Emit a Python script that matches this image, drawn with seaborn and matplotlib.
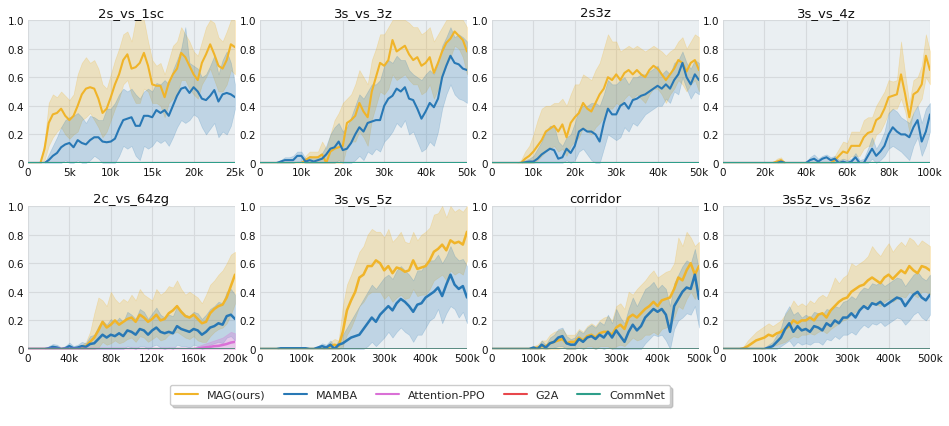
import numpy as np
import pandas as pd
import matplotlib
matplotlib.use("Agg")
import matplotlib.pyplot as plt
import seaborn as sns
from matplotlib.lines import Line2D

# ---------------- data ----------------
METHODS = ["MAG(ours)", "MAMBA", "Attention-PPO", "G2A", "CommNet"]
COLORS = {"MAG(ours)": "#F0B429", "MAMBA": "#2878B5", "Attention-PPO": "#DA70D6",
          "G2A": "#E8474C", "CommNet": "#2E9E8A"}

TITLES = ["2s_vs_1sc", "3s_vs_3z", "2s3z", "3s_vs_4z",
          "2c_vs_64zg", "3s_vs_5z", "corridor", "3s5z_vs_3s6z"]
XMAX = [25000, 50000, 50000, 100000, 200000, 500000, 500000, 500000]
XTICKS = [[0, 5000, 10000, 15000, 20000, 25000],
          [0, 10000, 20000, 30000, 40000, 50000],
          [0, 10000, 20000, 30000, 40000, 50000],
          [0, 20000, 40000, 60000, 80000, 100000],
          [0, 40000, 80000, 120000, 160000, 200000],
          [0, 100000, 200000, 300000, 400000, 500000],
          [0, 100000, 200000, 300000, 400000, 500000],
          [0, 100000, 200000, 300000, 400000, 500000]]
XTICKLABELS = [["0", "5k", "10k", "15k", "20k", "25k"],
               ["0", "10k", "20k", "30k", "40k", "50k"],
               ["0", "10k", "20k", "30k", "40k", "50k"],
               ["0", "20k", "40k", "60k", "80k", "100k"],
               ["0", "40k", "80k", "120k", "160k", "200k"],
               ["0", "100k", "200k", "300k", "400k", "500k"],
               ["0", "100k", "200k", "300k", "400k", "500k"],
               ["0", "100k", "200k", "300k", "400k", "500k"]]
YTICKS = [0, 0.2, 0.4, 0.6, 0.8, 1.0]
YTICKLABELS = ["0", "0.2", "0.4", "0.6", "0.8", "1.0"]
N_POINTS = 51

# 2s_vs_1sc
P1_MAG = [0,0,0,0,0.10,0.28,0.34,0.35,0.38,0.33, 0.30,0.33,0.40,0.48,0.52,0.53,0.52,0.45,0.35,0.38, 0.46,0.55,0.62,0.72,0.76,0.66,0.67,0.70,0.77,0.68, 0.55,0.54,0.54,0.46,0.56,0.62,0.66,0.77,0.74,0.68, 0.62,0.58,0.70,0.76,0.83,0.76,0.68,0.66,0.72,0.83, 0.81]
P1_MAG_HI = [0,0,0,0,0.15,0.42,0.48,0.46,0.50,0.47, 0.44,0.48,0.62,0.70,0.74,0.70,0.72,0.66,0.55,0.52, 0.62,0.72,0.80,0.90,0.92,0.85,1.0,1.0,1.0,0.85, 0.72,0.68,0.70,0.62,0.72,0.82,0.85,0.95,0.90,0.85, 0.78,0.75,0.85,0.95,1.0,0.98,0.88,0.85,0.92,1.0, 1.0]
P1_MAG_LO = [0,0,0,0,0.02,0.12,0.18,0.22,0.25,0.20, 0.17,0.20,0.22,0.30,0.32,0.35,0.30,0.25,0.18,0.22, 0.30,0.38,0.45,0.55,0.58,0.48,0.42,0.42,0.52,0.50, 0.42,0.42,0.40,0.32,0.42,0.45,0.48,0.58,0.58,0.52, 0.48,0.45,0.55,0.60,0.66,0.58,0.50,0.50,0.55,0.65, 0.62]
P1_MAMBA = [0,0,0,0,0,0.02,0.05,0.07,0.11,0.13, 0.14,0.11,0.16,0.14,0.13,0.16,0.18,0.18,0.15,0.145, 0.15,0.17,0.24,0.30,0.31,0.32,0.26,0.26,0.33,0.33, 0.32,0.37,0.35,0.37,0.33,0.40,0.47,0.52,0.53,0.49, 0.53,0.50,0.45,0.44,0.47,0.51,0.43,0.48,0.49,0.48, 0.46]
P1_MAMBA_HI = [0,0,0,0,0,0.06,0.12,0.18,0.25,0.30, 0.32,0.33,0.35,0.32,0.28,0.33,0.32,0.30,0.30,0.38, 0.38,0.42,0.48,0.52,0.50,0.52,0.48,0.45,0.50,0.52, 0.50,0.56,0.55,0.58,0.55,0.65,0.72,0.80,0.95,0.70, 0.68,0.66,0.60,0.62,0.68,0.75,0.62,0.72,0.78,0.70, 0.55]
P1_MAMBA_LO = [0,0,0,0,0,0,0,0,0,0.02, 0,0,0.02,0,0,0.02,0.05,0.03,0,0, 0,0,0.05,0.12,0.10,0.12,0.05,0.02,0.12,0.10, 0.12,0.16,0.14,0.16,0.12,0.18,0.25,0.30,0.28,0.30, 0.34,0.32,0.25,0.20,0.24,0.28,0.18,0.22,0.20,0.26, 0.38]

# 3s_vs_3z
P2_MAG = [0,0,0,0,0,0,0,0,0,0, 0,0.02,0.04,0.04,0.04,0.06,0.0,0.08,0.10,0.11, 0.12,0.28,0.30,0.33,0.42,0.36,0.32,0.50,0.60,0.70, 0.68,0.72,0.86,0.78,0.80,0.82,0.76,0.72,0.74,0.68, 0.70,0.74,0.63,0.70,0.78,0.84,0.87,0.92,0.89,0.86, 0.78]
P2_MAG_HI = [0,0,0,0,0,0,0,0,0,0, 0,0.05,0.08,0.08,0.08,0.15,0.10,0.20,0.30,0.35, 0.42,0.45,0.48,0.55,0.65,0.60,0.55,0.72,0.80,0.90, 0.90,0.95,1.0,1.0,1.0,1.0,0.98,0.95,0.95,0.90, 0.92,0.95,0.85,0.90,0.95,1.0,1.0,1.0,1.0,1.0, 0.95]
P2_MAG_LO = [0,0,0,0,0,0,0,0,0,0, 0,0,0,0,0,0,0,0,0,0, 0,0.12,0.15,0.15,0.22,0.18,0.12,0.30,0.40,0.50, 0.48,0.52,0.62,0.58,0.60,0.62,0.58,0.55,0.55,0.48, 0.50,0.55,0.45,0.52,0.60,0.68,0.74,0.82,0.80,0.74, 0.62]
P2_MAMBA = [0,0,0,0,0,0.01,0.02,0.02,0.02,0.05, 0.05,0.01,0.02,0.01,0.02,0.03,0.06,0.10,0.11,0.15, 0.09,0.10,0.14,0.20,0.25,0.22,0.28,0.29,0.30,0.30, 0.40,0.45,0.47,0.52,0.50,0.53,0.45,0.44,0.38,0.31, 0.36,0.42,0.39,0.45,0.60,0.68,0.75,0.70,0.69,0.66, 0.65]
P2_MAMBA_HI = [0,0,0,0,0,0.02,0.04,0.04,0.05,0.08, 0.08,0.03,0.05,0.04,0.05,0.07,0.12,0.20,0.25,0.28, 0.22,0.25,0.32,0.40,0.48,0.45,0.50,0.55,0.55,0.58, 0.68,0.72,0.70,0.75,0.72,0.72,0.65,0.62,0.60,0.58, 0.62,0.65,0.62,0.70,0.82,0.88,0.95,0.88,0.90,0.88, 0.85]
P2_MAMBA_LO = [0,0,0,0,0,0,0,0,0,0.01, 0.01,0,0,0,0,0,0,0,0,0.02, 0,0,0,0.02,0.05,0.02,0.08,0.06,0.10,0.08, 0.15,0.18,0.22,0.28,0.25,0.30,0.20,0.22,0.15,0.08, 0.10,0.15,0.12,0.22,0.38,0.48,0.55,0.48,0.45,0.44, 0.42]

# 2s3z
P3_MAG = [0,0,0,0,0,0,0,0.0,0.03,0.05, 0.08,0.12,0.16,0.22,0.24,0.26,0.22,0.27,0.18,0.28, 0.32,0.35,0.42,0.38,0.36,0.42,0.48,0.52,0.60,0.58, 0.62,0.58,0.63,0.65,0.62,0.65,0.62,0.60,0.65,0.68, 0.66,0.62,0.58,0.62,0.66,0.72,0.70,0.64,0.70,0.72, 0.65]
P3_MAG_HI = [0,0,0,0,0,0,0,0.02,0.08,0.12, 0.20,0.30,0.38,0.40,0.40,0.42,0.42,0.45,0.40,0.48, 0.55,0.55,0.62,0.60,0.58,0.65,0.70,0.80,0.90,0.85, 0.85,0.78,0.80,0.82,0.80,0.82,0.80,0.78,0.80,0.82, 0.80,0.78,0.75,0.78,0.80,0.85,0.88,0.80,0.85,0.90, 0.88]
P3_MAG_LO = [0,0,0,0,0,0,0,0,0,0, 0,0.02,0.05,0.08,0.10,0.12,0.08,0.10,0.05,0.12, 0.15,0.18,0.25,0.22,0.20,0.25,0.28,0.32,0.38,0.38, 0.42,0.40,0.45,0.48,0.45,0.48,0.45,0.42,0.48,0.52, 0.52,0.48,0.42,0.48,0.52,0.58,0.55,0.50,0.55,0.58, 0.50]
P3_MAMBA = [0,0,0,0,0,0,0,0,0.005,0.01, 0.01,0.03,0.06,0.08,0.10,0.09,0.03,0.04,0.10,0.07, 0.12,0.22,0.24,0.22,0.22,0.20,0.15,0.28,0.38,0.34, 0.34,0.40,0.42,0.38,0.44,0.45,0.47,0.48,0.50,0.52, 0.54,0.52,0.55,0.52,0.58,0.62,0.70,0.60,0.55,0.62, 0.58]
P3_MAMBA_HI = [0,0,0,0,0,0,0,0,0.02,0.03, 0.05,0.10,0.15,0.22,0.26,0.26,0.15,0.12,0.18,0.20, 0.28,0.38,0.40,0.40,0.42,0.42,0.40,0.48,0.58,0.55, 0.55,0.58,0.60,0.55,0.60,0.60,0.62,0.62,0.64,0.66, 0.68,0.62,0.65,0.62,0.70,0.72,0.78,0.70,0.66,0.72, 0.70]
P3_MAMBA_LO = [0,0,0,0,0,0,0,0,0,0, 0,0,0,0,0,0,0,0,0.02,0, 0.02,0.08,0.10,0.06,0.02,0,0,0.10,0.20,0.18, 0.16,0.18,0.25,0.22,0.28,0.26,0.30,0.34,0.36,0.38, 0.40,0.40,0.45,0.42,0.50,0.48,0.60,0.52,0.45,0.50, 0.48]

# 3s_vs_4z
P4_MAG = [0,0,0,0,0,0,0,0,0,0, 0,0,0,0.01,0.02,0,0,0,0,0, 0,0,0,0,0,0,0,0.02,0.05,0.08, 0.07,0.12,0.12,0.12,0.18,0.21,0.22,0.30,0.32,0.38, 0.46,0.47,0.48,0.62,0.48,0.32,0.48,0.50,0.55,0.75, 0.65]
P4_MAG_HI = [0,0,0,0,0,0,0,0,0,0, 0,0,0,0.03,0.04,0,0,0,0,0, 0,0,0,0,0,0,0,0.05,0.10,0.15, 0.14,0.22,0.22,0.22,0.30,0.32,0.32,0.40,0.45,0.50, 0.58,0.57,0.58,0.85,0.62,0.42,0.58,0.60,0.68,0.90, 0.78]
P4_MAG_LO = [0,0,0,0,0,0,0,0,0,0, 0,0,0,0,0,0,0,0,0,0, 0,0,0,0,0,0,0,0,0.01,0.03, 0.02,0.05,0.05,0.05,0.10,0.12,0.12,0.20,0.22,0.28, 0.35,0.38,0.38,0.45,0.36,0.22,0.36,0.40,0.45,0.60, 0.55]
P4_MAMBA = [0,0,0,0,0,0,0,0,0,0, 0,0,0,0,0.01,0,0,0,0,0, 0,0.02,0.03,0.01,0.03,0.04,0.02,0.03,0,0.01, 0,0.01,0.04,0,0,0.05,0.10,0.05,0.08,0.12, 0.20,0.25,0.22,0.20,0.20,0.18,0.25,0.30,0.15,0.22, 0.34]
P4_MAMBA_HI = [0,0,0,0,0,0,0,0,0,0, 0,0,0,0,0.02,0,0,0,0,0, 0,0.04,0.06,0.03,0.05,0.06,0.04,0.05,0.02,0.03, 0.02,0.03,0.07,0.02,0.03,0.10,0.18,0.10,0.15,0.22, 0.35,0.38,0.36,0.32,0.30,0.28,0.35,0.40,0.28,0.38, 0.42]
P4_MAMBA_LO = [0,0,0,0,0,0,0,0,0,0, 0,0,0,0,0,0,0,0,0,0, 0,0,0,0,0,0,0,0,0,0, 0,0,0,0,0,0,0.03,0,0.02,0.05, 0.10,0.12,0.10,0.08,0.05,0.02,0.12,0.18,0.05,0.12, 0.22]

# 2c_vs_64zg
P5_MAG = [0,0,0,0,0,0,0,0,0,0, 0,0,0,0.01,0.02,0.05,0.08,0.13,0.19,0.15, 0.17,0.20,0.17,0.19,0.21,0.22,0.19,0.24,0.22,0.19, 0.21,0.24,0.20,0.21,0.25,0.27,0.30,0.26,0.23,0.22, 0.24,0.21,0.18,0.19,0.25,0.28,0.30,0.31,0.36,0.44, 0.52]
P5_MAG_HI = [0,0,0,0,0,0,0,0,0,0, 0,0,0,0.03,0.05,0.12,0.25,0.36,0.34,0.30, 0.40,0.35,0.32,0.35,0.33,0.38,0.34,0.42,0.38,0.36, 0.34,0.42,0.38,0.40,0.44,0.43,0.48,0.42,0.38,0.40, 0.38,0.36,0.32,0.38,0.45,0.48,0.52,0.55,0.60,0.66, 0.68]
P5_MAG_LO = [0,0,0,0,0,0,0,0,0,0, 0,0,0,0,0,0,0,0.01,0.05,0.03, 0.04,0.06,0.04,0.05,0.07,0.08,0.05,0.09,0.08,0.05, 0.07,0.09,0.06,0.07,0.10,0.11,0.12,0.10,0.08,0.07, 0.09,0.06,0.05,0.05,0.09,0.12,0.14,0.15,0.18,0.24, 0.32]
P5_MAMBA = [0,0,0,0,0,0.005,0.015,0.01,0,0.005, 0.02,0.005,0.01,0.02,0.015,0.035,0.04,0.07,0.10,0.08, 0.10,0.09,0.11,0.09,0.13,0.12,0.10,0.14,0.13,0.10, 0.13,0.15,0.12,0.11,0.12,0.11,0.16,0.14,0.13,0.12, 0.14,0.13,0.10,0.12,0.15,0.16,0.18,0.17,0.23,0.24, 0.21]
P5_MAMBA_HI = [0,0,0,0,0,0.02,0.035,0.03,0.01,0.02, 0.045,0.02,0.03,0.05,0.04,0.09,0.10,0.16,0.20,0.17, 0.21,0.18,0.22,0.19,0.26,0.24,0.21,0.28,0.26,0.21, 0.25,0.29,0.24,0.22,0.24,0.23,0.30,0.27,0.24,0.23, 0.26,0.25,0.21,0.24,0.28,0.30,0.33,0.32,0.40,0.42, 0.38]
P5_MAMBA_LO = [0,0,0,0,0,0,0,0,0,0, 0,0,0,0,0,0,0,0,0,0, 0,0,0,0,0.02,0.01,0,0.02,0.02,0, 0.02,0.03,0.01,0,0.01,0,0.03,0.02,0.02,0.01, 0.03,0.02,0,0.01,0.03,0.04,0.05,0.04,0.08,0.09, 0.06]
P5_ATT = [0,0,0,0,0,0,0,0,0,0, 0,0,0,0,0,0,0,0,0,0, 0,0,0,0,0,0,0,0,0,0, 0,0,0,0,0,0,0,0,0,0, 0,0.003,0.008,0.012,0.015,0.02,0.022,0.028,0.035,0.045, 0.05]
P5_ATT_HI = [0,0,0,0,0,0,0,0,0,0, 0,0,0,0,0,0,0,0,0,0, 0,0,0,0,0,0,0,0,0,0, 0,0,0,0,0,0,0,0,0,0, 0.005,0.02,0.03,0.04,0.05,0.06,0.07,0.08,0.10,0.12, 0.11]

# 3s_vs_5z
P6_MAG = [0,0,0,0,0,0,0,0,0,0, 0,0,0,0,0,0,0.005,0.02,0.03,0.02, 0.12,0.27,0.34,0.40,0.50,0.52,0.58,0.58,0.62,0.60, 0.55,0.58,0.53,0.57,0.56,0.54,0.55,0.62,0.56,0.57, 0.58,0.62,0.68,0.70,0.73,0.69,0.76,0.74,0.75,0.73, 0.82]
P6_MAG_HI = [0,0,0,0,0,0,0,0,0,0, 0,0,0,0,0,0,0.01,0.05,0.07,0.06, 0.30,0.45,0.52,0.60,0.68,0.72,0.80,0.84,0.82,0.82, 0.78,0.84,0.75,0.78,0.82,0.75,0.74,0.82,0.76,0.80, 0.82,0.85,0.94,0.95,1.0,0.92,1.0,0.96,0.98,0.96, 1.0]
P6_MAG_LO = [0,0,0,0,0,0,0,0,0,0, 0,0,0,0,0,0,0,0,0,0, 0.02,0.10,0.15,0.22,0.30,0.33,0.38,0.40,0.40,0.40, 0.35,0.38,0.33,0.36,0.38,0.35,0.36,0.42,0.37,0.38, 0.38,0.42,0.48,0.50,0.52,0.48,0.55,0.52,0.54,0.52, 0.62]
P6_MAMBA = [0,0,0,0,0,0.005,0.005,0.005,0.005,0.005, 0.005,0.005,0,0,0.01,0.02,0.01,0.03,0,0.03, 0.04,0.06,0.08,0.09,0.10,0.14,0.18,0.22,0.19,0.24, 0.27,0.30,0.27,0.32,0.35,0.33,0.30,0.26,0.31,0.32, 0.36,0.38,0.40,0.43,0.37,0.45,0.52,0.45,0.42,0.44, 0.36]
P6_MAMBA_HI = [0,0,0,0,0,0.01,0.01,0.012,0.012,0.01, 0.01,0.01,0.005,0.005,0.02,0.04,0.03,0.06,0.02,0.06, 0.10,0.15,0.20,0.25,0.30,0.35,0.40,0.45,0.42,0.46, 0.50,0.52,0.49,0.55,0.58,0.55,0.52,0.48,0.55,0.55, 0.60,0.62,0.62,0.66,0.60,0.65,0.72,0.65,0.62,0.63, 0.58]
P6_MAMBA_LO = [0,0,0,0,0,0,0,0,0,0, 0,0,0,0,0,0,0,0,0,0, 0,0,0,0,0,0,0.02,0.05,0.02,0.05, 0.08,0.12,0.08,0.12,0.15,0.12,0.10,0.05,0.10,0.10, 0.15,0.20,0.22,0.28,0.18,0.25,0.30,0.28,0.22,0.26, 0.18]

# corridor
P7_MAG = [0,0,0,0,0,0,0,0,0,0, 0.005,0.01,0.02,0.02,0.04,0.05,0.06,0.07,0.04,0.05, 0.05,0.08,0.06,0.09,0.10,0.08,0.11,0.12,0.12,0.10, 0.15,0.17,0.14,0.22,0.24,0.22,0.25,0.28,0.30,0.33, 0.30,0.34,0.35,0.36,0.42,0.50,0.48,0.55,0.60,0.52, 0.58]
P7_MAG_HI = [0,0,0,0,0,0,0,0,0,0, 0.02,0.03,0.06,0.06,0.10,0.12,0.13,0.14,0.10,0.10, 0.10,0.14,0.12,0.16,0.18,0.16,0.20,0.22,0.23,0.20, 0.30,0.32,0.28,0.40,0.38,0.42,0.45,0.48,0.52,0.55, 0.50,0.52,0.54,0.55,0.60,0.78,0.72,0.82,0.78,0.72, 0.75]
P7_MAG_LO = [0,0,0,0,0,0,0,0,0,0, 0,0,0,0,0,0,0,0.01,0,0, 0,0.02,0,0.02,0.02,0,0.02,0.02,0.02,0, 0.02,0.03,0.02,0.05,0.08,0.06,0.07,0.10,0.10,0.12, 0.10,0.14,0.15,0.16,0.22,0.30,0.28,0.35,0.40,0.35, 0.42]
P7_MAMBA = [0,0,0,0,0,0,0,0,0,0, 0.01,0,0.03,0.01,0.04,0.05,0.08,0.09,0.04,0.03, 0.03,0.07,0.05,0.08,0.09,0.07,0.10,0.08,0.12,0.08, 0.13,0.09,0.05,0.12,0.17,0.13,0.16,0.22,0.25,0.28, 0.26,0.28,0.24,0.12,0.30,0.35,0.40,0.43,0.42,0.52, 0.35]
P7_MAMBA_HI = [0,0,0,0,0,0,0,0,0,0, 0.02,0.01,0.06,0.03,0.08,0.10,0.14,0.15,0.09,0.07, 0.08,0.13,0.11,0.15,0.17,0.15,0.19,0.17,0.24,0.18, 0.28,0.22,0.18,0.28,0.36,0.30,0.36,0.42,0.44,0.47, 0.42,0.45,0.42,0.30,0.46,0.52,0.58,0.62,0.60,0.70, 0.55]
P7_MAMBA_LO = [0,0,0,0,0,0,0,0,0,0, 0,0,0.005,0,0.005,0.01,0.02,0.02,0,0, 0,0.01,0,0.01,0.01,0,0.01,0,0.01,0, 0,0,0,0,0,0,0,0.04,0.07,0.10, 0.09,0.10,0.06,0,0.14,0.20,0.22,0.25,0.24,0.30, 0.15]

# 3s5z_vs_3s6z
P8_MAG = [0,0,0,0,0,0.005,0.02,0.04,0.06,0.07, 0.08,0.10,0.09,0.11,0.12,0.14,0.16,0.20,0.18,0.20, 0.20,0.22,0.20,0.24,0.25,0.22,0.27,0.30,0.33,0.35, 0.36,0.40,0.42,0.44,0.45,0.48,0.50,0.48,0.46,0.50, 0.52,0.49,0.52,0.55,0.53,0.58,0.55,0.53,0.58,0.57, 0.55]
P8_MAG_HI = [0,0,0,0,0,0.02,0.06,0.09,0.12,0.14, 0.16,0.18,0.16,0.18,0.20,0.24,0.28,0.34,0.30,0.32, 0.30,0.34,0.32,0.36,0.38,0.36,0.42,0.50,0.46,0.50, 0.52,0.60,0.58,0.60,0.62,0.65,0.72,0.68,0.65,0.70, 0.74,0.68,0.72,0.75,0.72,0.78,0.76,0.72,0.76,0.74, 0.72]
P8_MAG_LO = [0,0,0,0,0,0,0,0,0,0, 0,0.02,0.02,0.03,0.04,0.05,0.07,0.09,0.08,0.10, 0.10,0.11,0.10,0.12,0.13,0.11,0.14,0.16,0.18,0.20, 0.21,0.24,0.26,0.28,0.29,0.31,0.32,0.31,0.30,0.33, 0.35,0.33,0.35,0.37,0.36,0.40,0.38,0.36,0.40,0.40, 0.38]
P8_MAMBA = [0,0,0,0,0,0,0,0,0,0, 0,0.01,0.02,0.05,0.08,0.14,0.18,0.12,0.16,0.13, 0.14,0.12,0.16,0.15,0.13,0.18,0.16,0.20,0.18,0.22, 0.22,0.25,0.22,0.27,0.30,0.28,0.32,0.31,0.33,0.30, 0.32,0.34,0.36,0.35,0.30,0.34,0.38,0.40,0.36,0.34, 0.38]
P8_MAMBA_HI = [0,0,0,0,0,0,0,0,0,0, 0.01,0.03,0.05,0.10,0.15,0.25,0.30,0.24,0.26,0.22, 0.24,0.22,0.26,0.25,0.24,0.28,0.27,0.30,0.29,0.33, 0.34,0.37,0.35,0.40,0.43,0.42,0.46,0.45,0.47,0.44, 0.46,0.48,0.50,0.49,0.44,0.48,0.52,0.54,0.50,0.48, 0.52]
P8_MAMBA_LO = [0,0,0,0,0,0,0,0,0,0, 0,0,0,0,0.02,0.04,0.06,0.02,0.05,0.03, 0.04,0.03,0.05,0.05,0.03,0.07,0.06,0.09,0.07,0.10, 0.10,0.12,0.10,0.14,0.17,0.15,0.18,0.17,0.19,0.16, 0.18,0.20,0.22,0.21,0.17,0.20,0.24,0.26,0.22,0.20, 0.24]

ZERO_SERIES = [0.0] * N_POINTS  # Attention-PPO / G2A / CommNet flat at 0

# ---------------- style ----------------
sns.set_theme(style="darkgrid", rc={
    "axes.facecolor": "#EAEFF2",
    "grid.color": "#D6DADD",
    "grid.linewidth": 0.8,
    "axes.edgecolor": "#EAEFF2",
})
plt.rcParams["font.family"] = ["DejaVu Sans"]

fig = plt.figure(figsize=(9.49, 4.27), dpi=100)
W, H = 949.0, 427.0
lefts = [28, 260, 492, 723]
row_tops = [21, 207]
aw, ah = 207, 143

panel_data = [
    (P1_MAG, P1_MAG_LO, P1_MAG_HI, P1_MAMBA, P1_MAMBA_LO, P1_MAMBA_HI, None, None),
    (P2_MAG, P2_MAG_LO, P2_MAG_HI, P2_MAMBA, P2_MAMBA_LO, P2_MAMBA_HI, None, None),
    (P3_MAG, P3_MAG_LO, P3_MAG_HI, P3_MAMBA, P3_MAMBA_LO, P3_MAMBA_HI, None, None),
    (P4_MAG, P4_MAG_LO, P4_MAG_HI, P4_MAMBA, P4_MAMBA_LO, P4_MAMBA_HI, None, None),
    (P5_MAG, P5_MAG_LO, P5_MAG_HI, P5_MAMBA, P5_MAMBA_LO, P5_MAMBA_HI, P5_ATT, P5_ATT_HI),
    (P6_MAG, P6_MAG_LO, P6_MAG_HI, P6_MAMBA, P6_MAMBA_LO, P6_MAMBA_HI, None, None),
    (P7_MAG, P7_MAG_LO, P7_MAG_HI, P7_MAMBA, P7_MAMBA_LO, P7_MAMBA_HI, None, None),
    (P8_MAG, P8_MAG_LO, P8_MAG_HI, P8_MAMBA, P8_MAMBA_LO, P8_MAMBA_HI, None, None),
]

for i in range(8):
    r, c = divmod(i, 4)
    rect = [lefts[c] / W, 1 - (row_tops[r] + ah) / H, aw / W, ah / H]
    ax = fig.add_axes(rect)
    mag, mag_lo, mag_hi, mam, mam_lo, mam_hi, att, att_hi = panel_data[i]
    steps = np.linspace(0, XMAX[i], N_POINTS)
    att_vals = att if att is not None else ZERO_SERIES

    lw = 1.5 if r == 0 else 1.8
    # bands
    ax.fill_between(steps, mag_lo, mag_hi, color=COLORS["MAG(ours)"], alpha=0.25,
                    linewidth=0.5, zorder=1)
    ax.fill_between(steps, mam_lo, mam_hi, color=COLORS["MAMBA"], alpha=0.22,
                    linewidth=0.5, zorder=1)
    if att is not None:
        ax.fill_between(steps, ZERO_SERIES, att_hi, color=COLORS["Attention-PPO"],
                        alpha=0.3, linewidth=0.5, zorder=1)

    df = pd.concat([
        pd.DataFrame({"step": steps, "win": mag, "method": "MAG(ours)"}),
        pd.DataFrame({"step": steps, "win": mam, "method": "MAMBA"}),
        pd.DataFrame({"step": steps, "win": att_vals, "method": "Attention-PPO"}),
        pd.DataFrame({"step": steps, "win": ZERO_SERIES, "method": "G2A"}),
        pd.DataFrame({"step": steps, "win": ZERO_SERIES, "method": "CommNet"}),
    ], ignore_index=True)
    sns.lineplot(data=df, x="step", y="win", hue="method", hue_order=METHODS,
                 palette=COLORS, errorbar=None, legend=False, linewidth=lw,
                 ax=ax, zorder=3)

    ax.set_xlim(0, XMAX[i])
    ax.set_ylim(0, 1.0)
    ax.set_xticks(XTICKS[i])
    ax.set_xticklabels(XTICKLABELS[i])
    ax.set_yticks(YTICKS)
    ax.set_yticklabels(YTICKLABELS)
    ax.set_xlabel("")
    ax.set_ylabel("")
    ax.set_title(TITLES[i], fontsize=9.5, pad=3, color="#111111")
    ax.tick_params(axis="both", length=0, pad=3, labelsize=7.5, colors="#111111")
    for s in ax.spines.values():
        s.set_visible(False)

handles = [Line2D([0], [0], color=COLORS[m], lw=1.5) for m in METHODS]
leg = fig.legend(handles, METHODS, loc="center", bbox_to_anchor=(420 / W, 1 - 396 / H),
                 ncol=5, fontsize=8, frameon=True,
                 shadow={"color": "#AAAAAA", "alpha": 0.6},
                 fancybox=True, handlelength=2.1, columnspacing=1.6,
                 handletextpad=0.8, borderpad=0.45, framealpha=1.0)
leg.get_frame().set_facecolor("white")
leg.get_frame().set_edgecolor("#CCCCCC")

fig.savefig("out.png", dpi=100)
